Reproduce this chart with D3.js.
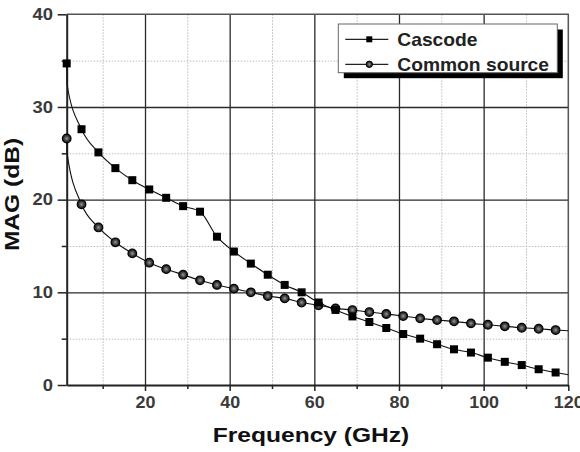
<!DOCTYPE html>
<html>
<head>
<meta charset="utf-8">
<script src="https://cdn.jsdelivr.net/npm/d3@7"></script>
<style>
  body { margin: 0; background: #fff; }
  svg { display: block; }
  text { font-family: "Liberation Sans", Arial, sans-serif; font-weight: bold; }
</style>
</head>
<body>
<svg id="magChart" width="580" height="452"></svg>
<script>
// marker frequencies (GHz)
const freqs = [1.5, 5, 9, 13, 17, 21, 25, 29, 33, 37, 41, 45, 49, 53, 57,
  61, 65, 69, 73, 77, 81, 85, 89, 93, 97, 101, 105, 109, 113, 117];

// MAG (dB) at marker frequencies
const cascodeMAG = [34.7, 27.6, 25.1, 23.4, 22.1, 21.1, 20.2, 19.3, 18.7, 16.0,
  14.4, 13.1, 11.9, 10.8, 10.0, 8.9, 8.1, 7.4, 6.8, 6.15,
  5.5, 5.0, 4.4, 3.85, 3.5, 2.95, 2.5, 2.15, 1.7, 1.35];
const commonSourceMAG = [26.6, 19.5, 17.0, 15.4, 14.2, 13.2, 12.5, 11.9, 11.3, 10.8,
  10.4, 10.0, 9.6, 9.35, 8.9, 8.6, 8.27, 8.09, 7.87, 7.66,
  7.44, 7.19, 7.01, 6.87, 6.65, 6.5, 6.33, 6.18, 6.07, 5.93];

// extra curve points without markers (just after the first marker, and at the right edge)
const headFreq = 1.6, cascodeHead = 32.4, commonSourceHead = 25.0;
const tailFreq = 120, cascodeTail = 1.1, commonSourceTail = 5.85;

const xMajorTicks = [20, 40, 60, 80, 100, 120];
const xMinorTicks = [10, 30, 50, 70, 90, 110];
const yMajorTicks = [0, 10, 20, 30, 40];
const yMinorTicks = [5, 15, 25, 35];

const seriesNames = ["Cascode", "Common source"];

var svg = d3.select("#magChart"),
  margin = { top: 14.3, right: 11.7, bottom: 67, left: 66.7 },
  width = +svg.attr("width") - margin.left - margin.right,
  height = +svg.attr("height") - margin.top - margin.bottom;

var x = d3.scaleLinear().domain([1.5, 120]).range([0, width]);
var y = d3.scaleLinear().domain([0, 40]).range([height, 0]);

var g = svg.append("g")
  .attr("transform", "translate(" + margin.left + "," + margin.top + ")");

// minor dotted grid
g.append("g")
  .attr("class", "grid minor")
  .call(d3.axisBottom(x).tickValues(xMinorTicks).tickSize(height).tickFormat(""))
  .call(function(s) { s.select(".domain").remove(); });
g.append("g")
  .attr("class", "grid minor")
  .call(d3.axisLeft(y).tickValues(yMinorTicks).tickSize(-width).tickFormat(""))
  .call(function(s) { s.select(".domain").remove(); });
g.selectAll(".grid.minor line")
  .attr("stroke", "#bdbdbd")
  .attr("stroke-width", 1)
  .attr("stroke-dasharray", "1.5,1.5");

// major solid grid
g.append("g")
  .attr("class", "grid major")
  .call(d3.axisBottom(x).tickValues(xMajorTicks.slice(0, -1)).tickSize(height).tickFormat(""))
  .call(function(s) { s.select(".domain").remove(); });
g.append("g")
  .attr("class", "grid major")
  .call(d3.axisLeft(y).tickValues(yMajorTicks.slice(1, -1)).tickSize(-width).tickFormat(""))
  .call(function(s) { s.select(".domain").remove(); });
g.selectAll(".grid.major line")
  .attr("stroke", "#2a2a2a")
  .attr("stroke-width", 1.3);

// frame (top / right)
g.append("path")
  .attr("d", "M0,0H" + width + "V" + height)
  .attr("fill", "none")
  .attr("stroke", "#555")
  .attr("stroke-width", 1.5);

// x axis
var xAxis = g.append("g")
  .attr("class", "x axis")
  .attr("transform", "translate(0," + height + ")")
  .call(d3.axisBottom(x).tickValues(xMajorTicks).tickSize(6).tickSizeOuter(0));
g.append("g")
  .attr("transform", "translate(0," + height + ")")
  .call(d3.axisBottom(x).tickValues(xMinorTicks).tickSize(4).tickFormat(""))
  .call(function(s) { s.select(".domain").remove(); });

// y axis
var yAxis = g.append("g")
  .attr("class", "y axis")
  .call(d3.axisLeft(y).tickValues(yMajorTicks).tickSize(9).tickSizeOuter(0));
g.append("g")
  .call(d3.axisLeft(y).tickValues(yMinorTicks).tickSize(5).tickFormat(""))
  .call(function(s) { s.select(".domain").remove(); });

g.selectAll(".domain").attr("stroke", "#222").attr("stroke-width", 2);
g.selectAll(".tick line").filter(function() {
  return !this.parentNode.parentNode.classList.contains("grid");
}).attr("stroke", "#222").attr("stroke-width", 1.5);

xAxis.selectAll("text")
  .attr("y", 12)
  .attr("dy", "0.71em")
  .attr("transform", "scale(1.12,1)")
  .style("font-size", "16px")
  .attr("fill", "#3a3a3a");
yAxis.selectAll("text")
  .attr("x", -12)
  .attr("transform", "scale(1.15,1)")
  .style("font-size", "16px")
  .attr("fill", "#3a3a3a");

// curves
var line = d3.line()
  .x(function(d) { return x(d[0]); })
  .y(function(d) { return y(d[1]); })
  .curve(d3.curveMonotoneX);

function curvePoints(vals, headVal, tailVal) {
  var pts = [[freqs[0], vals[0]], [headFreq, headVal]];
  for (var i = 1; i < freqs.length; i++) pts.push([freqs[i], vals[i]]);
  pts.push([tailFreq, tailVal]);
  return pts;
}

var plot = g.append("g");

plot.append("path")
  .datum(curvePoints(commonSourceMAG, commonSourceHead, commonSourceTail))
  .attr("fill", "none")
  .attr("stroke", "#111")
  .attr("stroke-width", 1.1)
  .attr("d", line);
plot.append("path")
  .datum(curvePoints(cascodeMAG, cascodeHead, cascodeTail))
  .attr("fill", "none")
  .attr("stroke", "#111")
  .attr("stroke-width", 1.1)
  .attr("d", line);

var defs = svg.append("defs");
var grad = defs.append("radialGradient").attr("id", "ball")
  .attr("cx", "50%").attr("cy", "50%").attr("r", "50%");
grad.append("stop").attr("offset", "0%").attr("stop-color", "#999");
grad.append("stop").attr("offset", "50%").attr("stop-color", "#4a4a4a");
grad.append("stop").attr("offset", "100%").attr("stop-color", "#111");

plot.selectAll(".cs")
  .data(freqs.map(function(f, i) { return [f, commonSourceMAG[i]]; }))
  .enter()
  .append("circle")
  .attr("class", "cs")
  .attr("cx", function(d) { return x(d[0]); })
  .attr("cy", function(d) { return y(d[1]); })
  .attr("r", 4.3)
  .attr("fill", "url(#ball)")
  .attr("stroke", "#000")
  .attr("stroke-width", 1.2);

plot.selectAll(".cas")
  .data(freqs.map(function(f, i) { return [f, cascodeMAG[i]]; }))
  .enter()
  .append("rect")
  .attr("class", "cas")
  .attr("x", function(d) { return x(d[0]) - 4; })
  .attr("y", function(d) { return y(d[1]) - 4; })
  .attr("width", 8)
  .attr("height", 8)
  .attr("fill", "#000");

// axis titles
svg.append("text")
  .attr("transform", "translate(311,441.5) scale(1.17,1)")
  .attr("text-anchor", "middle")
  .style("font-size", "21px")
  .attr("fill", "#111")
  .text("Frequency (GHz)");
svg.append("text")
  .attr("transform", "translate(19,194.5) rotate(-90) scale(1.17,1)")
  .attr("text-anchor", "middle")
  .style("font-size", "21px")
  .attr("fill", "#111")
  .text("MAG (dB)");

// legend
var legend = svg.append("g").attr("transform", "translate(338.3,24)");
legend.append("rect")
  .attr("x", 5.5).attr("y", 5.5)
  .attr("width", 219).attr("height", 48.7)
  .attr("fill", "#000");
legend.append("rect")
  .attr("width", 219).attr("height", 48.7)
  .attr("fill", "#fff")
  .attr("stroke", "#666")
  .attr("stroke-width", 1);

var entries = legend.selectAll(".entry")
  .data(seriesNames)
  .enter()
  .append("g")
  .attr("class", "entry")
  .attr("transform", function(d, i) { return "translate(0," + (15.3 + i * 25) + ")"; });
entries.append("line")
  .attr("x1", 7).attr("x2", 50)
  .attr("stroke", "#222").attr("stroke-width", 1.2);
entries.filter(function(d, i) { return i === 0; })
  .append("rect")
  .attr("x", 28).attr("y", -3).attr("width", 6).attr("height", 6)
  .attr("fill", "#000");
entries.filter(function(d, i) { return i === 1; })
  .append("circle")
  .attr("cx", 31).attr("r", 3.2)
  .attr("fill", "url(#ball)").attr("stroke", "#000").attr("stroke-width", 1);
entries.append("text")
  .attr("transform", "translate(59,6.5) scale(1.04,1)")
  .style("font-size", "18.5px")
  .attr("fill", "#222")
  .text(function(d) { return d; });
</script>
</body>
</html>
